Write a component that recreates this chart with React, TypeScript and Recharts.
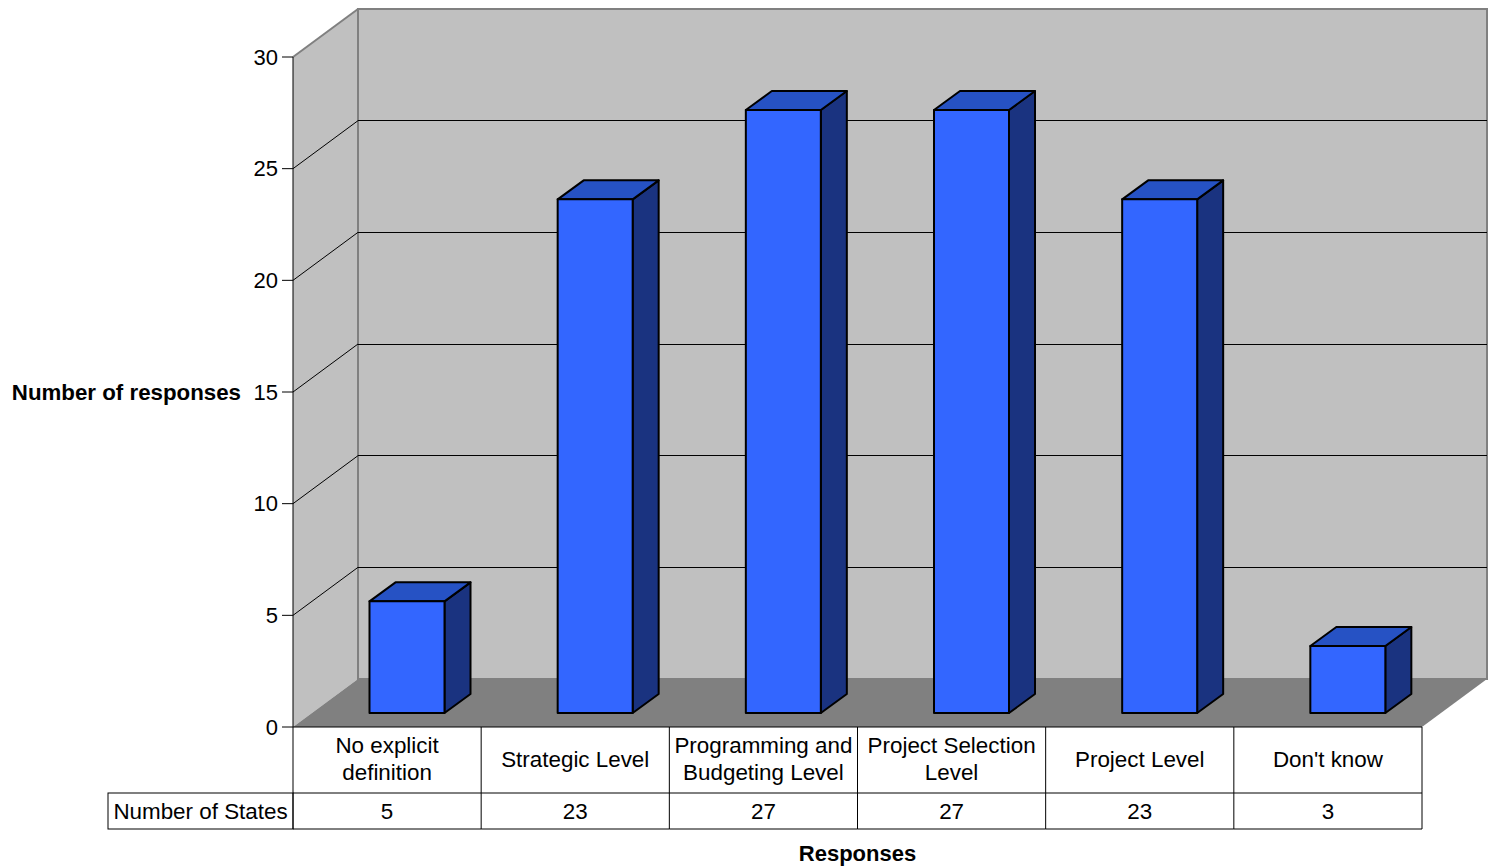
import React from 'react';
import { BarChart, Bar, XAxis, YAxis, CartesianGrid, ReferenceArea, Label } from 'recharts';

const categories = [
  'No explicit definition',
  'Strategic Level',
  'Programming and Budgeting Level',
  'Project Selection Level',
  'Project Level',
  "Don't know",
];
// how each category name wraps inside its table cell
const categoryLines = [
  ['No explicit', 'definition'],
  ['Strategic Level'],
  ['Programming and', 'Budgeting Level'],
  ['Project Selection', 'Level'],
  ['Project Level'],
  ["Don't know"],
];
const states = [5, 23, 27, 27, 23, 3];
const yTicks = [0, 5, 10, 15, 20, 25, 30];
const seriesName = 'Number of States';

const data = categories.map((name, i) => ({ name, states: states[i] }));

// fake 3D projection: back wall offset, bar position inside the depth, bar thickness
const WALL_DX = 65;
const WALL_DY = 48;
const BAR_DX = 19.5;
const BAR_DY = 14;
const BAR_DEPTH_X = 26;
const BAR_DEPTH_Y = 19;

const FONT = "'Liberation Sans', Arial, sans-serif";
const TABLE_FONT = 22.4;
const HEADER_ROW = 66;
const VALUE_ROW = 36;
const ROW_LABEL_W = 185;

function Walls(props: any) {
  const { x, y, width, height } = props;
  const bottom = y + height;
  const bx = x + WALL_DX;
  const by = y - WALL_DY;
  return (
    <g>
      <polygon
        points={`${x},${bottom} ${x},${y} ${bx},${by} ${bx},${bottom - WALL_DY}`}
        fill="#c0c0c0"
      />
      <rect x={bx} y={by} width={width} height={height} fill="#c0c0c0" />
      <polygon
        points={`${x},${bottom} ${bx},${bottom - WALL_DY} ${bx + width},${bottom - WALL_DY} ${x + width},${bottom}`}
        fill="#808080"
      />
      <line x1={x} y1={y} x2={bx} y2={by} stroke="#808080" strokeWidth={2} />
      <rect x={bx} y={by} width={width} height={height} fill="none" stroke="#808080" strokeWidth={2} />
    </g>
  );
}

// grid line on the side wall plus its continuation along the back wall
function GridLine(props: any) {
  const { x1, x2, y1, y, height } = props;
  if (y !== undefined && height !== undefined) {
    if (Math.abs(y1 - y) < 1 || Math.abs(y1 - (y + height)) < 1) return <g />;
  }
  return (
    <g>
      <line x1={x1} y1={y1} x2={x1 + WALL_DX} y2={y1 - WALL_DY} stroke="#000" strokeWidth={1} />
      <line
        x1={x1 + WALL_DX}
        y1={y1 - WALL_DY}
        x2={x2 + WALL_DX}
        y2={y1 - WALL_DY}
        stroke="#000"
        strokeWidth={1}
        shapeRendering="crispEdges"
      />
    </g>
  );
}

function Bar3D(props: any) {
  const { x, y, width, height } = props;
  if (!height) return null;
  const fx = x + BAR_DX;
  const fy = y - BAR_DY;
  const r = fx + width;
  const b = fy + height;
  return (
    <g stroke="#000" strokeWidth={2} strokeLinejoin="round">
      <polygon
        points={`${r},${fy} ${r + BAR_DEPTH_X},${fy - BAR_DEPTH_Y} ${r + BAR_DEPTH_X},${b - BAR_DEPTH_Y} ${r},${b}`}
        fill="#1a3380"
      />
      <polygon
        points={`${fx},${fy} ${fx + BAR_DEPTH_X},${fy - BAR_DEPTH_Y} ${r + BAR_DEPTH_X},${fy - BAR_DEPTH_Y} ${r},${fy}`}
        fill="#2652c4"
      />
      <rect x={fx} y={fy} width={width} height={height} fill="#3366ff" />
    </g>
  );
}

// data table under the plot: category header row and the value row
function TableTick(props: any) {
  const { x, y, payload, index } = props;
  const cellW =
    payload && payload.offset ? payload.offset * 2 : (props.width || 0) / categories.length;
  const x0 = x - cellW / 2;
  const x1 = x + cellW / 2;
  const r1 = y + HEADER_ROW;
  const r2 = r1 + VALUE_ROW;
  const lines = categoryLines[index] || [String(payload.value)];
  const lineH = 27.5;
  const firstY = y + HEADER_ROW / 2 - ((lines.length - 1) * lineH) / 2;
  return (
    <g>
      <line x1={x0} y1={y} x2={x0} y2={r2} stroke="#000" />
      {index === categories.length - 1 && <line x1={x1} y1={y} x2={x1} y2={r2} stroke="#000" />}
      <line x1={x0} y1={r1} x2={x1} y2={r1} stroke="#000" />
      <line x1={x0} y1={r2} x2={x1} y2={r2} stroke="#000" />
      {lines.map((t, i) => (
        <text
          key={i}
          x={x}
          y={firstY + i * lineH - 1}
          textAnchor="middle"
          dominantBaseline="central"
          fontSize={TABLE_FONT}
          fill="#000"
        >
          {t}
        </text>
      ))}
      <text
        x={x}
        y={r1 + VALUE_ROW / 2}
        textAnchor="middle"
        dominantBaseline="central"
        fontSize={TABLE_FONT}
        fill="#000"
      >
        {states[index]}
      </text>
      {index === 0 && (
        <g>
          <rect x={x0 - ROW_LABEL_W} y={r1} width={ROW_LABEL_W} height={VALUE_ROW} fill="none" stroke="#000" />
          <text
            x={x0 - ROW_LABEL_W / 2}
            y={r1 + VALUE_ROW / 2}
            textAnchor="middle"
            dominantBaseline="central"
            fontSize={TABLE_FONT}
            fill="#000"
          >
            {seriesName}
          </text>
        </g>
      )}
    </g>
  );
}

export default function App() {
  return (
    <div
      style={{
        position: 'absolute',
        left: 0,
        top: 0,
        width: 1489,
        height: 868,
        background: '#fff',
        fontFamily: FONT,
      }}
    >
      <BarChart width={1489} height={868} data={data} margin={{ top: 57, right: 67, left: 241, bottom: 39 }}>
        <ReferenceArea y1={0} y2={30} shape={Walls} ifOverflow="visible" zIndex={-200} />
        <CartesianGrid vertical={false} horizontal={GridLine} stroke="#000" zIndex={-100} />
        <XAxis
          dataKey="name"
          height={HEADER_ROW + VALUE_ROW}
          interval={0}
          tickLine={false}
          tickSize={0}
          tickMargin={0}
          axisLine={{ stroke: '#000', strokeWidth: 1 }}
          tick={TableTick}
        >
          <Label
            content={(p: any) => {
              const vb = p.viewBox || {};
              return (
                <text
                  x={vb.x + vb.width / 2}
                  y={vb.y + vb.height + 24}
                  textAnchor="middle"
                  dominantBaseline="central"
                  fontSize={22}
                  fontWeight="bold"
                  fill="#000"
                >
                  Responses
                </text>
              );
            }}
          />
        </XAxis>
        <YAxis
          width={52}
          domain={[0, 30]}
          ticks={yTicks}
          interval={0}
          tickSize={11}
          tickMargin={4}
          tick={{ fill: '#000', fontSize: 22 }}
          tickLine={{ stroke: '#000' }}
          axisLine={{ stroke: '#000' }}
        >
          <Label
            content={(p: any) => {
              const vb = p.viewBox || {};
              return (
                <text
                  x={vb.x}
                  y={vb.y + vb.height / 2}
                  textAnchor="end"
                  dominantBaseline="central"
                  fontSize={22.3}
                  fontWeight="bold"
                  fill="#000"
                >
                  Number of responses
                </text>
              );
            }}
          />
        </YAxis>
        <Bar dataKey="states" name={seriesName} barSize={75} shape={Bar3D} isAnimationActive={false} />
      </BarChart>
    </div>
  );
}
